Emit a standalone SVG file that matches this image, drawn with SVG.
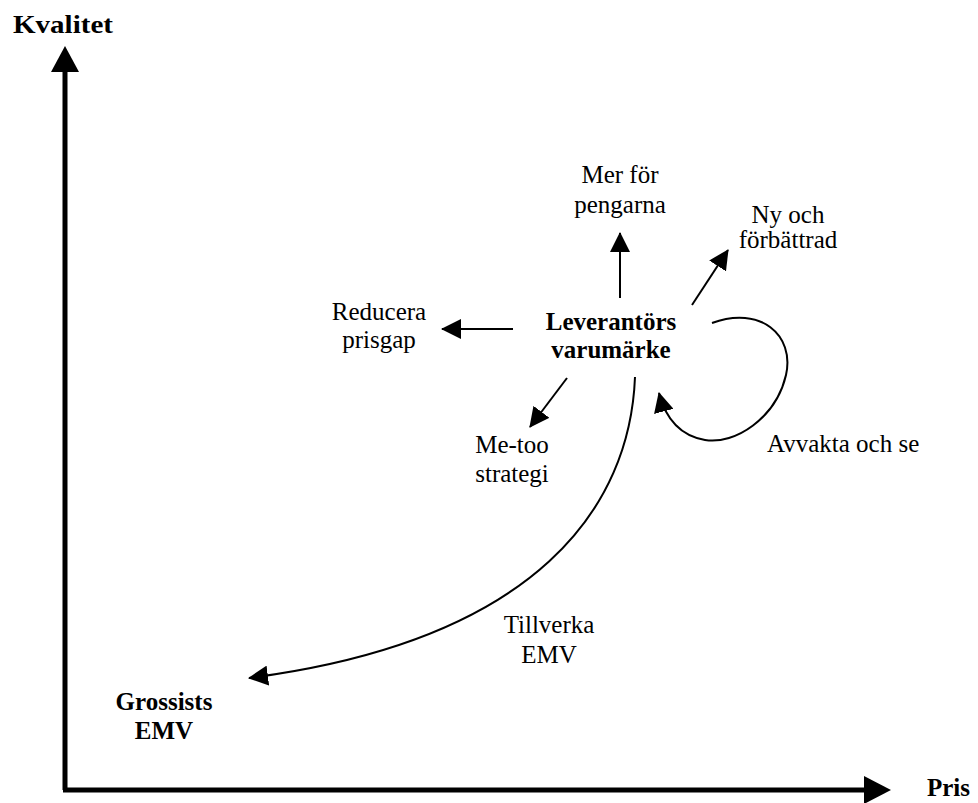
<svg xmlns="http://www.w3.org/2000/svg" width="978" height="803" viewBox="0 0 978 803">
<style>
text{font-family:"Liberation Serif","Times New Roman",serif;font-size:25px;fill:#000}
.b{font-weight:bold}
.c{text-anchor:middle}
.ln{fill:none;stroke:#000;stroke-width:2}
.ax{fill:none;stroke:#000;stroke-width:5}
</style>
<defs>
<marker id="ah" viewBox="0 0 20 20" refX="19" refY="10" markerWidth="20" markerHeight="20" markerUnits="userSpaceOnUse" orient="auto">
<path d="M0,0 L20,10 L0,20 Z" fill="#000"/>
</marker>
<marker id="axh" viewBox="0 0 26 28" refX="25" refY="14" markerWidth="26" markerHeight="28" markerUnits="userSpaceOnUse" orient="auto">
<path d="M0,0 L26,14 L0,28 Z" fill="#000"/>
</marker>
</defs>
<rect width="978" height="803" fill="#fff"/>
<g id="axes">
<path class="ax" d="M65,790 L65,72"/>
<path d="M51,72 L65,46 L79,72 Z" fill="#000"/>
<path class="ax" d="M63,790 L864,790"/>
<path d="M864,776 L891,790 L864,804 Z" fill="#000"/>
<text id="kvalitet" class="b" x="13" y="33" textLength="100" lengthAdjust="spacingAndGlyphs">Kvalitet</text>
<text id="pris" class="b" x="927" y="796">Pris</text>
</g>
<g id="connectors">
<path class="ln" d="M620,298 L620,233" marker-end="url(#ah)"/>
<path class="ln" d="M692,305 L728,250" marker-end="url(#ah)"/>
<path class="ln" d="M513,329 L442,329" marker-end="url(#ah)"/>
<path class="ln" d="M567,378 L530,427" marker-end="url(#ah)"/>
<path class="ln" d="M635,377 C630,505 540,640 249,678" marker-end="url(#ah)"/>
<path class="ln" d="M712,323 C760,305 795,335 786,375 C776,418 735,445 705,440 C682,436 666,420 659,393" marker-end="url(#ah)"/>
</g>
<g id="leverantors"><text class="b c" x="611" y="330">Leverantörs</text><text class="b c" x="611" y="358">varumärke</text></g>
<g id="mer"><text class="c" x="620" y="183">Mer för</text><text class="c" x="620" y="213">pengarna</text></g>
<g id="ny"><text class="c" x="788" y="223">Ny och</text><text class="c" x="788" y="248">förbättrad</text></g>
<g id="reducera"><text class="c" x="379" y="320">Reducera</text><text class="c" x="379" y="348">prisgap</text></g>
<g id="metoo"><text class="c" x="512" y="453">Me-too</text><text class="c" x="512" y="482">strategi</text></g>
<g id="avvakta"><text x="767" y="452">Avvakta och se</text></g>
<g id="tillverka"><text class="c" x="549" y="633">Tillverka</text><text class="c" x="549" y="663">EMV</text></g>
<g id="grossists"><text class="b c" x="164" y="710">Grossists</text><text class="b c" x="164" y="739">EMV</text></g>
</svg>
